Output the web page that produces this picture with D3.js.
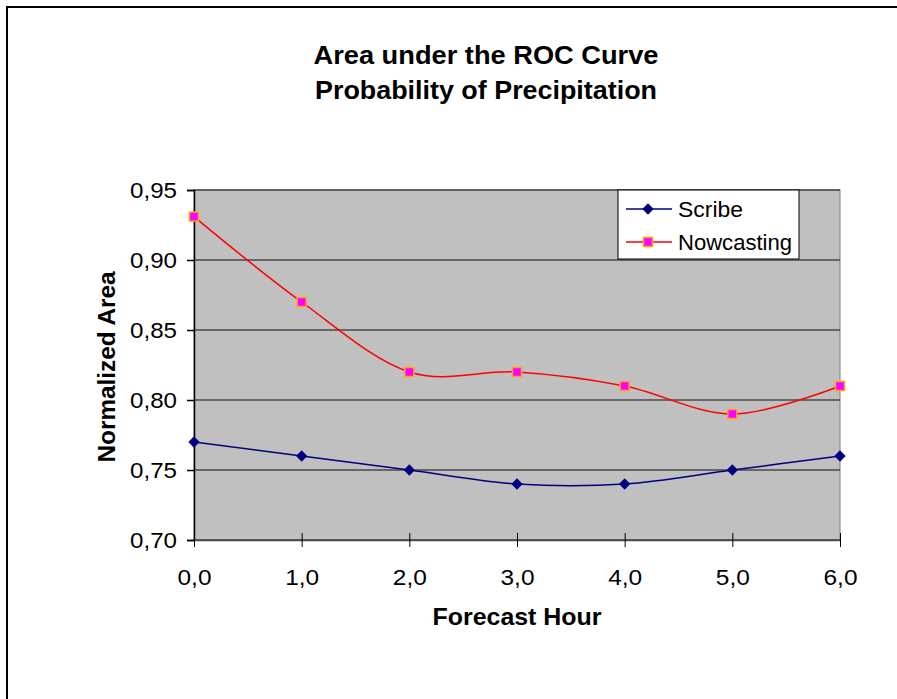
<!DOCTYPE html>
<html><head><meta charset="utf-8">
<script src="https://cdn.jsdelivr.net/npm/d3@7/dist/d3.min.js"></script>
<style>body{margin:0;background:#fff}svg{display:block}</style>
</head><body>
<script>
const hours = [0, 1, 2, 3, 4, 5, 6];
const scribe = [0.77, 0.76, 0.75, 0.74, 0.74, 0.75, 0.76];
const nowcasting = [0.931, 0.87, 0.82, 0.82, 0.81, 0.79, 0.81];
const yTicks = [0.70, 0.75, 0.80, 0.85, 0.90, 0.95];
const seriesNames = ["Scribe", "Nowcasting"];

const FONT = "Arial, 'Liberation Sans', sans-serif";
const W = 897, H = 699;
const svg = d3.select("body").append("svg").attr("width", W).attr("height", H)
  .attr("font-family", FONT);
// outer frame (only top/left visible)
svg.append("rect").attr("x", 7).attr("y", 7).attr("width", W + 20).attr("height", H + 20)
  .attr("fill", "#fff").attr("stroke", "#000").attr("stroke-width", 2);

const L = 194, R = 840, T = 190, B = 540;
const x = d3.scaleLinear().domain([0, 6]).range([L, R]);
const y = d3.scaleLinear().domain([0.70, 0.95]).range([B, T]);
const fmt = v => d3.format(".2f")(v).replace(".", ",");
const fmtx = v => d3.format(".1f")(v).replace(".", ",");

svg.append("rect").attr("x", L).attr("y", T).attr("width", R - L).attr("height", B - T)
  .attr("fill", "#c0c0c0").attr("stroke", "#808080").attr("stroke-width", 1);

// gridlines
svg.append("g").selectAll("line").data(yTicks).join("line")
  .attr("x1", L).attr("x2", R).attr("y1", d => y(d)).attr("y2", d => y(d))
  .attr("stroke", "#484848").attr("stroke-width", 1.5);

// y axis
const yAxis = d3.axisLeft(y).tickValues(yTicks).tickFormat(fmt).tickSize(7).tickPadding(10);
const gy = svg.append("g").attr("transform", `translate(${L},0)`).call(yAxis)
  .attr("font-family", FONT).attr("font-size", 22);
gy.select(".domain").attr("stroke", "#000").attr("stroke-width", 1.5);
gy.selectAll(".tick line").attr("stroke", "#000").attr("stroke-width", 1.5);
gy.selectAll("text").attr("fill", "#000").attr("textLength", 47).attr("lengthAdjust", "spacingAndGlyphs");

// x axis
const xAxis = d3.axisBottom(x).tickValues(hours).tickFormat(fmtx).tickSize(7).tickPadding(22).tickSizeOuter(0);
const gx = svg.append("g").attr("transform", `translate(0,${B})`).call(xAxis)
  .attr("font-family", FONT).attr("font-size", 22);
gx.select(".domain").attr("stroke", "#484848").attr("stroke-width", 1.5);
gx.selectAll(".tick line").attr("stroke", "#000").attr("stroke-width", 1).attr("y1", -7);
gx.selectAll("text").attr("fill", "#000").attr("textLength", 34).attr("lengthAdjust", "spacingAndGlyphs");

const line = d3.line().x((d, i) => x(hours[i])).y(d => y(d)).curve(d3.curveCardinal.tension(0));

svg.append("path").attr("d", line(scribe)).attr("fill", "none").attr("stroke", "#000080").attr("stroke-width", 1.5);
svg.append("path").attr("d", line(nowcasting)).attr("fill", "none").attr("stroke", "#ff0000").attr("stroke-width", 1.5);

const dia = d3.symbol().type(d3.symbolSquare).size(64);
svg.append("g").selectAll("path").data(scribe).join("path")
  .attr("d", dia)
  .attr("transform", (d, i) => `translate(${x(hours[i])},${y(d)}) rotate(45)`)
  .attr("fill", "#000080");
svg.append("g").selectAll("rect").data(nowcasting).join("rect")
  .attr("x", (d, i) => x(hours[i]) - 4.5).attr("y", d => y(d) - 4.5)
  .attr("width", 9).attr("height", 9)
  .attr("fill", "#ff00ff").attr("stroke", "#ffa020").attr("stroke-width", 1.5);

// legend
const lg = svg.append("g");
lg.append("rect").attr("x", 618).attr("y", 190).attr("width", 181).attr("height", 69)
  .attr("fill", "#fff").attr("stroke", "#000").attr("stroke-width", 1);
const legY = [209, 242];
const legColors = ["#000080", "#ff0000"];
const legLen = [65, 114];
seriesNames.forEach((n, i) => {
  lg.append("line").attr("x1", 626).attr("x2", 672).attr("y1", legY[i]).attr("y2", legY[i])
    .attr("stroke", legColors[i]).attr("stroke-width", 1.5);
  lg.append("text").attr("x", 678).attr("y", legY[i] + 8).attr("font-size", 22)
    .attr("textLength", legLen[i]).attr("lengthAdjust", "spacingAndGlyphs").text(n);
});
lg.append("path").attr("d", dia())
  .attr("transform", `translate(648,${legY[0]}) rotate(45)`).attr("fill", "#000080");
lg.append("rect").attr("x", 643.5).attr("y", legY[1] - 4.5).attr("width", 9).attr("height", 9)
  .attr("fill", "#ff00ff").attr("stroke", "#ffa020").attr("stroke-width", 1.5);

// titles
const title = ["Area under the ROC Curve", "Probability of Precipitation"];
const titleLen = [345, 342];
title.forEach((t, i) => svg.append("text").attr("x", 486).attr("y", 64 + i * 35)
  .attr("text-anchor", "middle").attr("font-size", 25).attr("font-weight", "bold")
  .attr("textLength", titleLen[i]).attr("lengthAdjust", "spacingAndGlyphs").text(t));
svg.append("text").attr("x", 517).attr("y", 625).attr("text-anchor", "middle")
  .attr("font-size", 24).attr("font-weight", "bold")
  .attr("textLength", 169).attr("lengthAdjust", "spacingAndGlyphs").text("Forecast Hour");
svg.append("text").attr("transform", "translate(115,367) rotate(-90)").attr("text-anchor", "middle")
  .attr("font-size", 24).attr("font-weight", "bold")
  .attr("textLength", 191).attr("lengthAdjust", "spacingAndGlyphs").text("Normalized Area");
</script>
</body></html>
